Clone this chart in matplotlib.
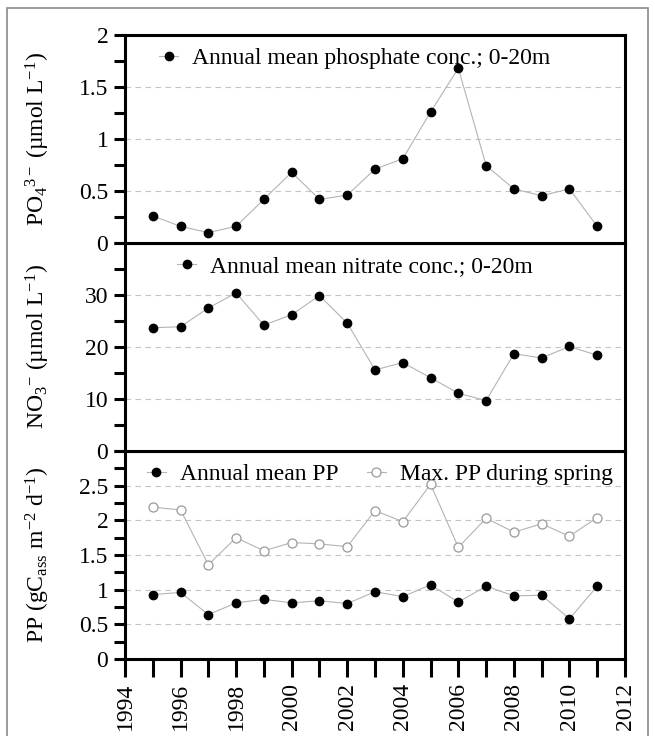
import matplotlib
matplotlib.use('Agg')
from matplotlib import pyplot as plt
from matplotlib.patches import Rectangle
from matplotlib.ticker import MultipleLocator
import numpy as np

plt.rcParams['font.family'] = ['Liberation Serif', 'DejaVu Serif']
plt.rcParams['mathtext.fontset'] = 'custom'
plt.rcParams['mathtext.rm'] = 'Liberation Serif'
plt.rcParams['mathtext.it'] = 'Liberation Serif:italic'

years = np.arange(1995, 2012)
po4 = [0.26, 0.16, 0.10, 0.16, 0.42, 0.68, 0.42, 0.46, 0.71, 0.81,
       1.26, 1.68, 0.745, 0.52, 0.455, 0.52, 0.16]
no3 = [23.7, 23.9, 27.5, 30.4, 24.2, 26.2, 29.9, 24.6, 15.6, 17.0,
       14.1, 11.1, 9.7, 18.7, 17.9, 20.1, 18.4]
pp_mean = [0.93, 0.96, 0.64, 0.81, 0.86, 0.81, 0.84, 0.80, 0.97, 0.90,
           1.07, 0.82, 1.05, 0.91, 0.92, 0.58, 1.05]
pp_max = [2.19, 2.15, 1.36, 1.75, 1.56, 1.68, 1.66, 1.62, 2.14, 1.98,
          2.52, 1.61, 2.03, 1.83, 1.95, 1.77, 2.04]

fs = 17
line_c = '#b4b4b4'

fig = plt.figure(figsize=(6.55, 7.36), dpi=100)
fig.patches.append(Rectangle((7/655, -0.01), 641/655, 1 - 8/736 + 0.01,
                             transform=fig.transFigure, fill=False,
                             edgecolor='#8a8a8a', linewidth=1.2))

left, width = 125/655, 500/655
bot = 1 - 659/736
h = (659 - 35)/736/3
ax3 = fig.add_axes([left, bot, width, h])
ax2 = fig.add_axes([left, bot + h, width, h], sharex=ax3)
ax1 = fig.add_axes([left, bot + 2*h, width, h], sharex=ax3)

ax1.plot(years, po4, '-o', color=line_c, lw=0.8, mfc='k', mec='k', ms=6,
         label='Annual mean phosphate conc.; 0-20m')
ax2.plot(years, no3, '-o', color=line_c, lw=0.8, mfc='k', mec='k', ms=6,
         label='Annual mean nitrate conc.; 0-20m')
ax3.plot(years, pp_mean, '-o', color=line_c, lw=0.8, mfc='k', mec='k', ms=6,
         label='Annual mean PP')
ax3.plot(years, pp_max, '-o', color=line_c, lw=0.8, mfc='white', mec='#9a9a9a',
         ms=6.5, mew=0.9, label='Max. PP during spring')

ax1.set_ylim(0, 2)
ax1.set_yticks([0, 0.5, 1, 1.5, 2])
ax1.set_yticklabels(['0', '0.5', '1', '1.5', '2'])
ax1.yaxis.set_minor_locator(MultipleLocator(0.25))

ax2.set_ylim(0, 40)
ax2.set_yticks([0, 10, 20, 30])
ax2.yaxis.set_minor_locator(MultipleLocator(5))

ax3.set_ylim(0, 3)
ax3.set_yticks([0, 0.5, 1, 1.5, 2, 2.5])
ax3.set_yticklabels(['0', '0.5', '1', '1.5', '2', '2.5'])
ax3.yaxis.set_minor_locator(MultipleLocator(0.25))

ax3.set_xlim(1994, 2012)
ax3.set_xticks(np.arange(1994, 2013, 2))
ax3.xaxis.set_minor_locator(MultipleLocator(1))

for ax in (ax1, ax2, ax3):
    for s in ax.spines.values():
        s.set_linewidth(2.2)
    ax.tick_params(axis='y', which='both', direction='out', length=8, width=2.2,
                   labelsize=fs, pad=4)
    ax.tick_params(axis='x', which='both', direction='out', length=13, width=2.2,
                   labelsize=fs, labelrotation=90, pad=4)
    ax.tick_params(right=False, top=False)
    for yv in ax.get_yticks()[1:]:
        ax.axhline(yv, color='#c4c4c4', lw=0.8, ls=(0, (5, 4)), zorder=0)
    ax.yaxis.set_label_coords(-0.146, 0.5)

for ax in (ax1, ax2):
    ax.tick_params(axis='x', which='both', bottom=False, labelbottom=False)

ax1.set_ylabel('PO$_4$$^{3-}$ (µmol L$^{-1}$)', fontsize=fs)
ax2.set_ylabel('NO$_3$$^{-}$ (µmol L$^{-1}$)', fontsize=fs)
ax3.set_ylabel(r'PP (gC$_{\mathrm{ass}}$ m$^{-2}$ d$^{-1}$)', fontsize=fs)

ax1.legend(loc='upper center', frameon=False, fontsize=fs, handlelength=0.8,
           handletextpad=0.6, bbox_to_anchor=(0.46, 1.04))
ax2.legend(loc='upper center', frameon=False, fontsize=fs, handlelength=0.8,
           handletextpad=0.6, bbox_to_anchor=(0.46, 1.04))
ax3.legend(loc='upper center', frameon=False, fontsize=fs, handlelength=0.8,
           handletextpad=0.6, ncol=2, columnspacing=1.2,
           bbox_to_anchor=(0.51, 1.04))

fig.savefig('out.png', dpi=100)
